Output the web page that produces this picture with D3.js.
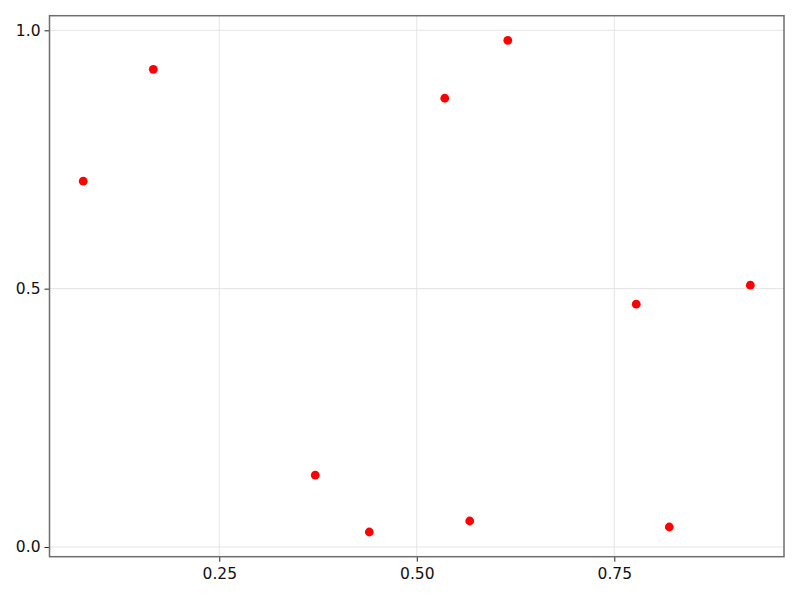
<!DOCTYPE html>
<html>
<head>
<meta charset="utf-8">
<script src="https://cdn.jsdelivr.net/npm/d3@7"></script>
<style>
html,body{margin:0;padding:0;background:#fff;}
svg{display:block;}
</style>
</head>
<body>
<svg id="chart" width="800" height="600"></svg>
<script>
const xValues = [0.0778, 0.1665, 0.3715, 0.4399, 0.5354, 0.5670, 0.6152, 0.7778, 0.8196, 0.9222];
const yValues = [0.708, 0.9246, 0.139, 0.029, 0.8685, 0.0503, 0.9807, 0.470, 0.0387, 0.5068];
const xTicks = [0.25, 0.50, 0.75];
const xTickLabels = ["0.25", "0.50", "0.75"];
const yTicks = [0.0, 0.5, 1.0];
const yTickLabels = ["0.0", "0.5", "1.0"];

(function () {
const svg = d3.select("#chart");
const pLeft = 49.5, pRight = 784, pTop = 15.7, pBottom = 556.7;
const x = d3.scaleLinear().domain([0.0351, 0.9648]).range([pLeft, pRight]);
const y = d3.scaleLinear().domain([-0.0188, 1.0283]).range([pBottom, pTop]);

const font = "DejaVu Sans, sans-serif";

// grid
svg.append("g").selectAll("line").data(xTicks).join("line")
  .attr("x1", d => x(d)).attr("x2", d => x(d))
  .attr("y1", pTop).attr("y2", pBottom)
  .attr("stroke", "#e4e4e4").attr("stroke-width", 1);
svg.append("g").selectAll("line").data(yTicks).join("line")
  .attr("y1", d => y(d)).attr("y2", d => y(d))
  .attr("x1", pLeft).attr("x2", pRight)
  .attr("stroke", "#e4e4e4").attr("stroke-width", 1);

// axes
const xAxis = d3.axisBottom(x).tickValues(xTicks).tickFormat((d,i) => xTickLabels[i]).tickSize(5).tickPadding(6);
const gx = svg.append("g").attr("transform", `translate(0,${pBottom})`).call(xAxis);
gx.select(".domain").remove();
gx.selectAll("line").attr("stroke", "#222");
gx.selectAll("text").attr("font-family", font).attr("font-size", 15.5).attr("fill", "#111");

const yAxis = d3.axisLeft(y).tickValues(yTicks).tickFormat((d,i) => yTickLabels[i]).tickSize(5).tickPadding(4);
const gy = svg.append("g").attr("transform", `translate(${pLeft},0)`).call(yAxis);
gy.select(".domain").remove();
gy.selectAll("line").attr("stroke", "#222");
gy.selectAll("text").attr("font-family", font).attr("font-size", 15.5).attr("fill", "#111");

// frame
svg.append("rect").attr("x", pLeft).attr("y", pTop)
  .attr("width", pRight - pLeft).attr("height", pBottom - pTop)
  .attr("fill", "none").attr("stroke", "#6e6e6e").attr("stroke-width", 1.5);

// points
svg.append("g").selectAll("circle").data(xValues.map((v,i) => [v, yValues[i]])).join("circle")
  .attr("cx", d => x(d[0])).attr("cy", d => y(d[1]))
  .attr("r", 4.4).attr("fill", "#ff0000");
})();
</script>
</body>
</html>
